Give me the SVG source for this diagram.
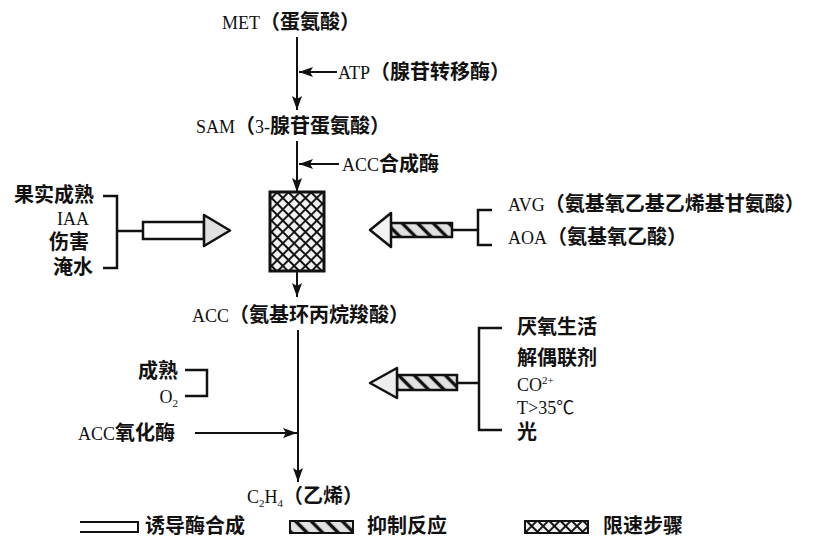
<svg xmlns="http://www.w3.org/2000/svg" width="820" height="541" viewBox="0 0 820 541">
<style>
.t{font-family:"Liberation Serif","Noto Sans CJK SC",serif;font-size:18px;fill:#111}
.c{font-family:"Noto Sans CJK SC",sans-serif;font-weight:700;font-size:20px}
.s{font-size:11px}
.ln{stroke:#111;stroke-width:2;fill:none}
.br{stroke:#111;stroke-width:2.5;fill:none}
</style>
<defs>
<marker id="ah" viewBox="0 0 14 10" markerWidth="14" markerHeight="10" refX="14" refY="5" orient="auto" markerUnits="userSpaceOnUse">
<path d="M0,0 L14,5 L0,10 L3,5 z" fill="#111"/>
</marker>
<pattern id="cross" patternUnits="userSpaceOnUse" width="8" height="8" patternTransform="rotate(45)">
<rect width="8" height="8" fill="#f1f1f1"/>
<path d="M0,4 H8 M4,0 V8" stroke="#111" stroke-width="1.9"/>
</pattern>
<pattern id="hatch" patternUnits="userSpaceOnUse" width="11" height="11" patternTransform="rotate(-45)">
<rect width="11" height="11" fill="#e2e2e2"/>
<path d="M5.5,0 V11" stroke="#111" stroke-width="3.4"/>
</pattern>
</defs>
<rect width="820" height="541" fill="#fff"/>

<g id="connectors">
<line class="ln" x1="297" y1="37" x2="297" y2="110" marker-end="url(#ah)"/>
<line class="ln" x1="337" y1="72" x2="299" y2="72" marker-end="url(#ah)"/>
<line class="ln" x1="297" y1="141" x2="297" y2="192" marker-end="url(#ah)"/>
<line class="ln" x1="339" y1="164" x2="299" y2="164" marker-end="url(#ah)"/>
<line class="ln" x1="297" y1="271" x2="297" y2="297" marker-end="url(#ah)"/>
<line class="ln" x1="298" y1="330" x2="298" y2="482" marker-end="url(#ah)"/>
<line class="ln" x1="195" y1="433" x2="297" y2="433" marker-end="url(#ah)"/>
<!-- left bracket and open (induction) arrow -->
<path class="br" d="M103,196 H117 V268 H103 M117,231 H143"/>
<rect x="143" y="222" width="61" height="17" fill="#fff" stroke="#111" stroke-width="2.5"/>
<path d="M204,215 L230,230.5 L204,246 z" fill="#e0e0e0" stroke="#111" stroke-width="2.5" stroke-linejoin="round"/>
<!-- right upper bracket and hatched (inhibition) arrow -->
<path class="br" d="M492,210 H478 V245 H492 M478,230 H452"/>
<rect x="391" y="223" width="61" height="14" fill="url(#hatch)" stroke="#111" stroke-width="2.5"/>
<path d="M391,213 L370,230 L391,247 z" fill="#f2f2f2" stroke="#111" stroke-width="2.5" stroke-linejoin="round"/>
<!-- right lower bracket and hatched arrow -->
<path class="br" d="M502,328 H479 V430 H502 M479,383 H457"/>
<rect x="397" y="375" width="60" height="15" fill="url(#hatch)" stroke="#111" stroke-width="2.5"/>
<path d="M397,368 L370,383 L397,398 z" fill="#eeeeee" stroke="#111" stroke-width="2.5" stroke-linejoin="round"/>
<!-- ripening / O2 bracket -->
<path class="br" d="M185,370 H207 V396 H185"/>
</g>

<g id="rate-limit-box">
<rect x="270" y="192" width="54" height="79" fill="url(#cross)" stroke="#111" stroke-width="3"/>
</g>

<g id="met"><text class="t" x="222" y="29">MET<tspan class="c">（蛋氨酸）</tspan></text></g>
<g id="atp"><text class="t" x="338" y="79">ATP<tspan class="c">（腺苷转移酶）</tspan></text></g>
<g id="sam"><text class="t" x="196" y="133">SAM<tspan class="c">（</tspan>3-<tspan class="c">腺苷蛋氨酸）</tspan></text></g>
<g id="acc-synthase"><text class="t" x="342" y="171">ACC<tspan class="c">合成酶</tspan></text></g>
<g id="inducers">
<text class="t" x="94" y="202" text-anchor="end"><tspan class="c">果实成熟</tspan></text>
<text class="t" x="89" y="225" text-anchor="end">IAA</text>
<text class="t" x="89" y="249" text-anchor="end"><tspan class="c">伤害</tspan></text>
<text class="t" x="93" y="274" text-anchor="end"><tspan class="c">淹水</tspan></text>
</g>
<g id="inhibitors-1">
<text class="t" x="508" y="211">AVG<tspan class="c">（氨基氧乙基乙烯基甘氨酸）</tspan></text>
<text class="t" x="508" y="244">AOA<tspan class="c">（氨基氧乙酸）</tspan></text>
</g>
<g id="acc"><text class="t" x="192" y="322">ACC<tspan class="c">（氨基环丙烷羧酸）</tspan></text></g>
<g id="ripening-o2">
<text class="t" x="178" y="378" text-anchor="end"><tspan class="c">成熟</tspan></text>
<text class="t" x="178" y="403" text-anchor="end">O<tspan class="s" dy="4">2</tspan></text>
</g>
<g id="acc-oxidase"><text class="t" x="78" y="440">ACC<tspan class="c">氧化酶</tspan></text></g>
<g id="inhibitors-2">
<text class="t" x="517" y="334"><tspan class="c">厌氧生活</tspan></text>
<text class="t" x="517" y="365"><tspan class="c">解偶联剂</tspan></text>
<text class="t" x="517" y="391">CO<tspan class="s" dy="-7">2+</tspan></text>
<text class="t" x="517" y="414">T&gt;35℃</text>
<text class="t" x="517" y="439"><tspan class="c">光</tspan></text>
</g>
<g id="ethylene"><text class="t" x="247" y="503">C<tspan class="s" dy="4">2</tspan><tspan dy="-4">H</tspan><tspan class="s" dy="4">4</tspan><tspan class="c" dy="-4">（乙烯）</tspan></text></g>

<g id="legend">
<path d="M80,522 H138 V532 H80" fill="#fff" stroke="#111" stroke-width="2"/>
<text class="t" x="145" y="533"><tspan class="c">诱导酶合成</tspan></text>
<rect x="290" y="521" width="63" height="12" fill="url(#hatch)" stroke="#111" stroke-width="2"/>
<text class="t" x="367" y="533"><tspan class="c">抑制反应</tspan></text>
<rect x="525" y="521" width="63" height="12" fill="url(#cross)" stroke="#111" stroke-width="2"/>
<text class="t" x="603" y="533"><tspan class="c">限速步骤</tspan></text>
</g>
</svg>
